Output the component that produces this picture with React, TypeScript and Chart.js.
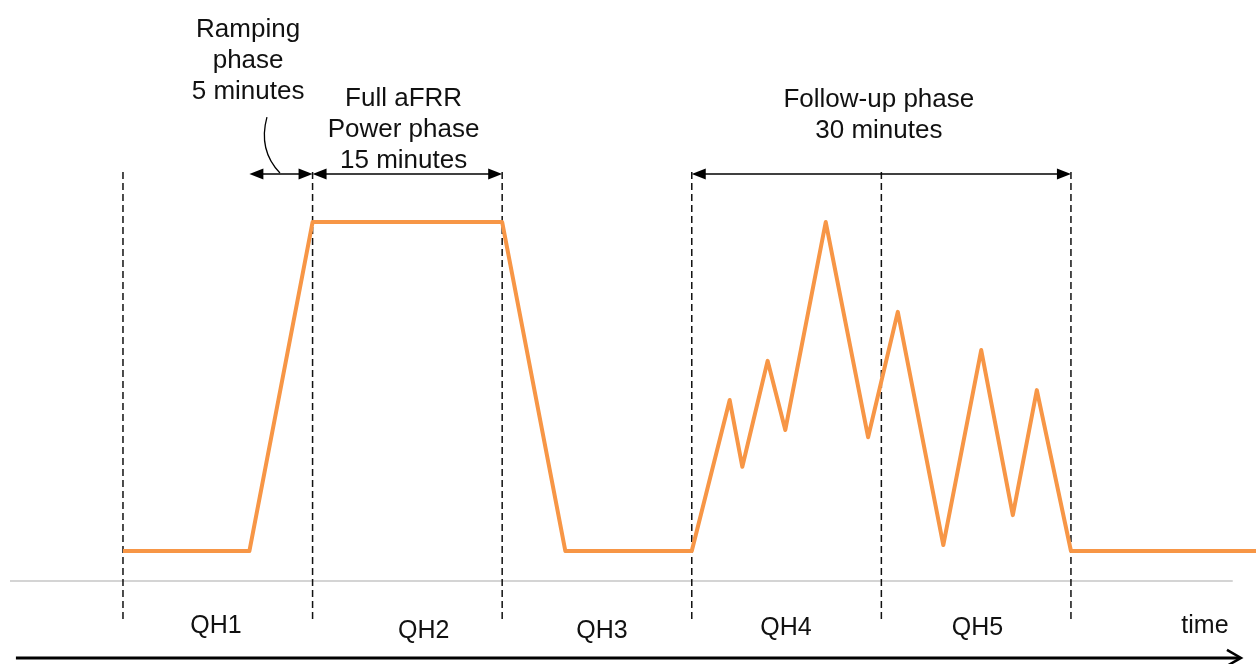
import { useEffect, useRef } from "react";
import { Chart, registerables } from "chart.js";

Chart.register(...registerables);

// Time in minutes from the start of QH1, power as % of full aFRR power
const minutes = [0, 10, 15, 30, 35, 45, 48, 49, 51, 52.4, 55.6, 58.95, 61.3, 64.9, 67.9, 70.4, 72.3, 75, 89.7];
const power = [0, 0, 100, 100, 0, 0, 45.9, 25.6, 57.8, 36.8, 100, 34.6, 72.7, 1.8, 61.1, 10.9, 48.9, 0, 0];

const qhBoundaries = [0, 15, 30, 45, 60, 75];
const qhLabels = ["QH1", "QH2", "QH3", "QH4", "QH5", "time"];
const qhLabelX = [7.36, 23.8, 37.9, 52.45, 67.6, 85.6];
const qhLabelY = [-24.9, -26.4, -26.4, -25.5, -25.5, -24.9];

const phaseLines = [
  ["Ramping", "phase", "5 minutes"],
  ["Full aFRR", "Power phase", "15 minutes"],
  ["Follow-up phase", "30 minutes"],
];
const phaseX = [9.9, 22.2, 59.8];
const phaseY = [156.2, 135.3, 135.0];

const spanStart = [10, 15, 45];
const spanEnd = [15, 30, 75];
const spanY = 114.6;

const dashTop = 115.2;
const dashBottom = -20.7;
const baselineX = [-8.94, 87.8];
const baselineY = -9.1;
const timeArrowX = [-8.47, 88.45];
const timeArrowY = -32.5;
const leader = [
  [11.39, 131.9],
  [10.68, 121.9],
  [12.42, 114.9],
];

const X_MIN = -9.73;
const X_MAX = 89.64;
const Y_MIN = -34.35;
const Y_MAX = 167.5;

const FONT = "'Liberation Sans', Arial, sans-serif";

function filledHead(ctx: CanvasRenderingContext2D, tipX: number, y: number, dir: number) {
  const len = 14;
  const half = 5.5;
  ctx.beginPath();
  ctx.moveTo(tipX, y);
  ctx.lineTo(tipX - dir * len, y - half);
  ctx.lineTo(tipX - dir * len, y + half);
  ctx.closePath();
  ctx.fill();
}

const overlayPlugin = {
  id: "overlay",
  afterDatasetsDraw(chart: any) {
    const ctx: CanvasRenderingContext2D = chart.ctx;
    const xs = chart.scales.x;
    const ys = chart.scales.y;
    const px = (v: number) => xs.getPixelForValue(v);
    const py = (v: number) => ys.getPixelForValue(v);
    ctx.save();

    // double-headed span arrows
    ctx.strokeStyle = "#000";
    ctx.fillStyle = "#000";
    ctx.lineWidth = 1.6;
    for (let i = 0; i < spanStart.length; i++) {
      const x0 = px(spanStart[i]);
      const x1 = px(spanEnd[i]);
      const y = py(spanY);
      ctx.beginPath();
      ctx.moveTo(x0 + 6, y);
      ctx.lineTo(x1 - 6, y);
      ctx.stroke();
      filledHead(ctx, x0, y, -1);
      filledHead(ctx, x1, y, 1);
    }

    // leader curve
    ctx.beginPath();
    ctx.lineWidth = 1.3;
    ctx.moveTo(px(leader[0][0]), py(leader[0][1]));
    ctx.quadraticCurveTo(px(leader[1][0]), py(leader[1][1]), px(leader[2][0]), py(leader[2][1]));
    ctx.stroke();

    // time arrow
    const ty = py(timeArrowY);
    const tx0 = px(timeArrowX[0]);
    const tx1 = px(timeArrowX[1]);
    ctx.lineWidth = 3;
    ctx.beginPath();
    ctx.moveTo(tx0, ty);
    ctx.lineTo(tx1 - 1, ty);
    ctx.stroke();
    ctx.lineWidth = 2.5;
    ctx.beginPath();
    ctx.moveTo(tx1 - 14, ty - 8);
    ctx.lineTo(tx1, ty);
    ctx.lineTo(tx1 - 14, ty + 8);
    ctx.stroke();

    // texts
    ctx.fillStyle = "#111";
    ctx.textAlign = "center";
    ctx.textBaseline = "alphabetic";
    ctx.font = `26px ${FONT}`;
    for (let i = 0; i < phaseLines.length; i++) {
      const cx = px(phaseX[i]);
      const by = py(phaseY[i]);
      phaseLines[i].forEach((line, j) => ctx.fillText(line, cx, by + j * 31));
    }
    ctx.font = `25px ${FONT}`;
    for (let i = 0; i < qhLabels.length; i++) {
      ctx.fillText(qhLabels[i], px(qhLabelX[i]), py(qhLabelY[i]));
    }
    ctx.restore();
  },
};

export default function App() {
  const ref = useRef<HTMLCanvasElement | null>(null);
  useEffect(() => {
    if (!ref.current) return;
    const dashed = qhBoundaries.map((b) => ({
      type: "line" as const,
      data: [
        { x: b, y: dashTop },
        { x: b, y: dashBottom },
      ],
      borderColor: "#111",
      borderWidth: 1.5,
      borderDash: [7, 4],
      pointRadius: 0,
      order: 2,
    }));
    const chart = new Chart(ref.current, {
      type: "line",
      data: {
        datasets: [
          {
            data: minutes.map((m, i) => ({ x: m, y: power[i] })),
            borderColor: "#F79646",
            borderWidth: 4,
            borderJoinStyle: "round",
            pointRadius: 0,
            tension: 0,
            order: 0,
          },
          {
            data: [
              { x: baselineX[0], y: baselineY },
              { x: baselineX[1], y: baselineY },
            ],
            borderColor: "#d4d4d4",
            borderWidth: 2,
            pointRadius: 0,
            order: 3,
          },
          ...dashed,
        ] as any,
      },
      options: {
        animation: false,
        responsive: true,
        maintainAspectRatio: false,
        layout: { padding: 0 },
        plugins: { legend: { display: false }, tooltip: { enabled: false } },
        scales: {
          x: { type: "linear", min: X_MIN, max: X_MAX, display: false },
          y: { type: "linear", min: Y_MIN, max: Y_MAX, display: false },
        },
      },
      plugins: [overlayPlugin],
    });
    return () => chart.destroy();
  }, []);
  return (
    <div style={{ position: "fixed", left: 0, top: 0, width: 1256, height: 664, background: "#fff" }}>
      <canvas ref={ref} />
    </div>
  );
}
